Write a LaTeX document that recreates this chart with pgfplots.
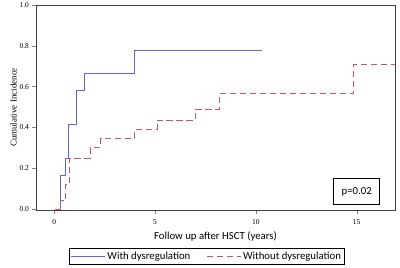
\documentclass[border=0pt]{standalone}
\usepackage{fontspec}
\setmainfont{Liberation Serif}
\newfontfamily\carlito{Carlito}
\usepackage{pgfplots}
\pgfplotsset{compat=1.18}
\definecolor{cblue}{RGB}{95,100,220}
\definecolor{cred}{RGB}{200,85,100}
\begin{document}
\begin{tikzpicture}
\path[use as bounding box] (0,0) rectangle (400bp,268bp);
\begin{axis}[
  at={(36bp,58bp)}, anchor=south west,
  scale only axis, width=359bp, height=205bp,
  xmin=-0.9, xmax=16.9, ymin=-0.005, ymax=1.0,
  xtick={0,5,10,15}, ytick={0,0.2,0.4,0.6,0.8,1.0},
  yticklabel style={/pgf/number format/fixed,/pgf/number format/fixed zerofill,/pgf/number format/precision=1},
  /pgf/number format/assume math mode=true,
  tick label style={font=\fontsize{7.5}{8}\selectfont},
  xticklabel style={yshift=-3bp},
  tick align=outside, tick pos=left,
  major tick length=3.5bp,
  axis line style={black!75, line width=0.8pt},
  xlabel={\carlito Follow up after HSCT (years)},
  xlabel style={font=\fontsize{10.8}{12}\selectfont, yshift=0bp},
  ylabel={Cumulative Incidence},
  ylabel style={font=\fontsize{9}{10}\selectfont, yshift=-4bp},
  legend columns=2,
  legend style={at={(0.476,-0.185)}, anchor=north, draw=black, line width=0.6pt,
    font=\carlito\fontsize{10.8}{12}\selectfont, inner sep=1.5pt,
    /tikz/every even column/.append style={column sep=14bp}},
  legend image code/.code={\draw[#1] (0bp,0bp) -- (34bp,0bp);},
]
\addplot[draw=cblue, line width=0.7pt, const plot] coordinates {
 (0.05,0) (0.3,0.167) (0.55,0.25) (0.7,0.417) (1.1,0.583) (1.5,0.667) (4.0,0.778) (10.3,0.778)};
\addlegendentry{With dysregulation}
\addplot[draw=cred, line width=0.8pt, dash pattern=on 6.5bp off 3.5bp, const plot] coordinates {
 (0.05,0) (0.3,0.04) (0.55,0.12) (0.75,0.25) (1.8,0.30) (2.3,0.345) (4.0,0.39) (5.1,0.435) (7.0,0.49) (8.2,0.565) (14.85,0.707) (16.9,0.707)};
\addlegendentry{Without dysregulation}
\node[draw=black, line width=0.6pt, font=\carlito\fontsize{10.8}{12}\selectfont,
  minimum width=46bp, minimum height=26bp, inner sep=2pt] at (axis cs:15.0,0.085) {p=0.02};
\end{axis}
\end{tikzpicture}
\end{document}
